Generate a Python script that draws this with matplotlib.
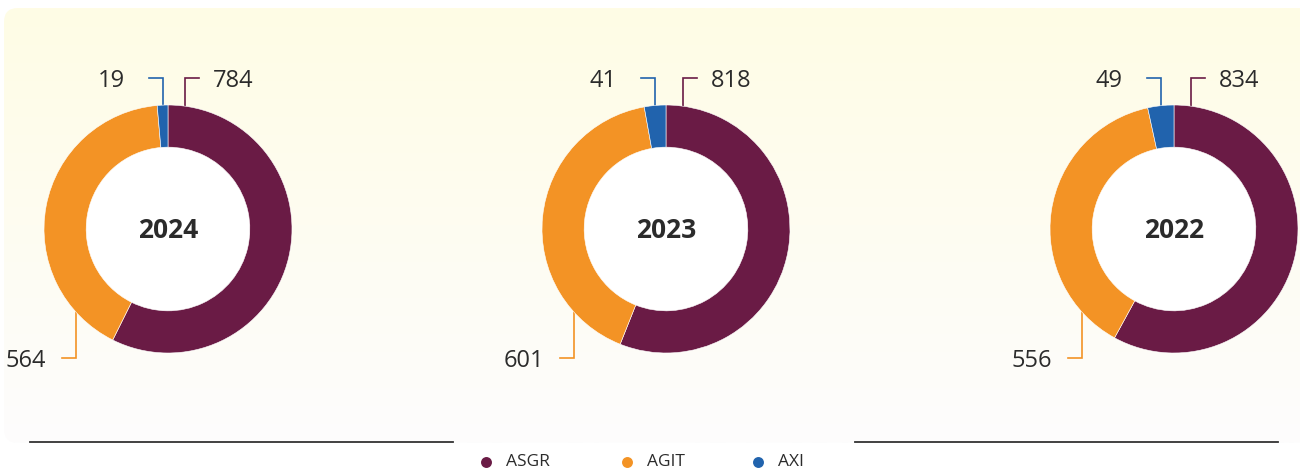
import numpy as np
import matplotlib
matplotlib.use("Agg")
import matplotlib.pyplot as plt
from matplotlib.patches import FancyBboxPatch, Circle

# data
years = ["2024", "2023", "2022"]
series = ["ASGR", "AGIT", "AXI"]
asgr = [784, 818, 834]
agit = [564, 601, 556]
axi = [19, 41, 49]
colors = ["#6a1b45", "#f39325", "#2163ad"]

W, H = 1300, 472
TEXT = "#2b2b2b"
FONT = ["Open Sans", "DejaVu Sans"]
plt.rcParams["font.family"] = FONT

fig = plt.figure(figsize=(W / 100, H / 100), dpi=100)
ax = fig.add_axes([0, 0, 1, 1])


def py(y):
    # pixel row (from top) -> data y
    return H - y


# pie layout
centers_x = [168, 666, 1174]
center_y = 229
R = 124
ring = 0.34 * R

for i, year in enumerate(years):
    vals = [asgr[i], agit[i], axi[i]]
    cx, cy = centers_x[i], py(center_y)
    wedges, _ = ax.pie(vals, colors=colors, startangle=90, counterclock=False,
                       radius=R, center=(cx, cy),
                       wedgeprops=dict(width=ring, edgecolor="white", linewidth=0.4))
    for w in wedges:
        w.set_zorder(3)
    # white hole
    ax.add_patch(Circle((cx, cy), R - ring, facecolor="white", edgecolor="none", zorder=2.5))
    ax.text(cx, cy - 2, year, ha="center", va="center", fontsize=19,
            fontweight="bold", color=TEXT, zorder=5)

    total = sum(vals)
    # angles clockwise from top
    axi_mid = 360 - 0.5 * 360 * axi[i] / total
    anchors = [8, 228, axi_mid]
    for k, (v, ang) in enumerate(zip(vals, anchors)):
        a = np.radians(ang)
        x0 = cx + R * np.sin(a)
        y0 = cy + R * np.cos(a)
        if k == 0:
            ly, dx, ha, gap = py(78), 14, "left", 14
        elif k == 1:
            ly, dx, ha, gap = py(358), -14, "right", -16
        else:
            ly, dx, ha, gap = py(78), -14, "right", -24
        ax.plot([x0, x0, x0 + dx], [y0, ly, ly], color=colors[k], lw=1.2,
                solid_joinstyle="miter", zorder=2)
        ax.text(x0 + dx + gap, ly - 3, str(v), ha=ha, va="center", fontsize=17,
                color=TEXT, zorder=5)

ax.set_xlim(0, W)
ax.set_ylim(0, H)
ax.set_aspect("auto")
ax.axis("off")

# background panel with vertical gradient
box = FancyBboxPatch((4 + 14, py(443) + 14), W + 20, 443 - 8 - 28,
                     boxstyle="round,pad=14", transform=ax.transData,
                     facecolor="none", edgecolor="none")
ax.add_patch(box)
top = np.array([255, 252, 229]) / 255
bot = np.array([253, 253, 253]) / 255
t = np.linspace(0, 1, 256)[:, None]
grad = (top[None, :] * (1 - t) + bot[None, :] * t)[:, None, :]
img = ax.imshow(grad, extent=(0, W, py(443), py(8)), aspect="auto",
                zorder=0, interpolation="bilinear")
img.set_clip_path(box)
ax.set_xlim(0, W)
ax.set_ylim(0, H)

# bottom rules
ax.plot([30, 453], [py(442), py(442)], color="#333333", lw=1.3, zorder=2)
ax.plot([855, 1278], [py(442), py(442)], color="#333333", lw=1.3, zorder=2)

# legend
leg_x = [486, 627, 758]
for k, name in enumerate(series):
    ax.scatter(leg_x[k], py(462), s=62, color=colors[k], zorder=4, linewidths=0)
    ax.text(leg_x[k] + 20, py(462), name, ha="left", va="center", fontsize=12.5,
            color=TEXT, zorder=4)

fig.savefig("out.png", dpi=100, facecolor="white")
